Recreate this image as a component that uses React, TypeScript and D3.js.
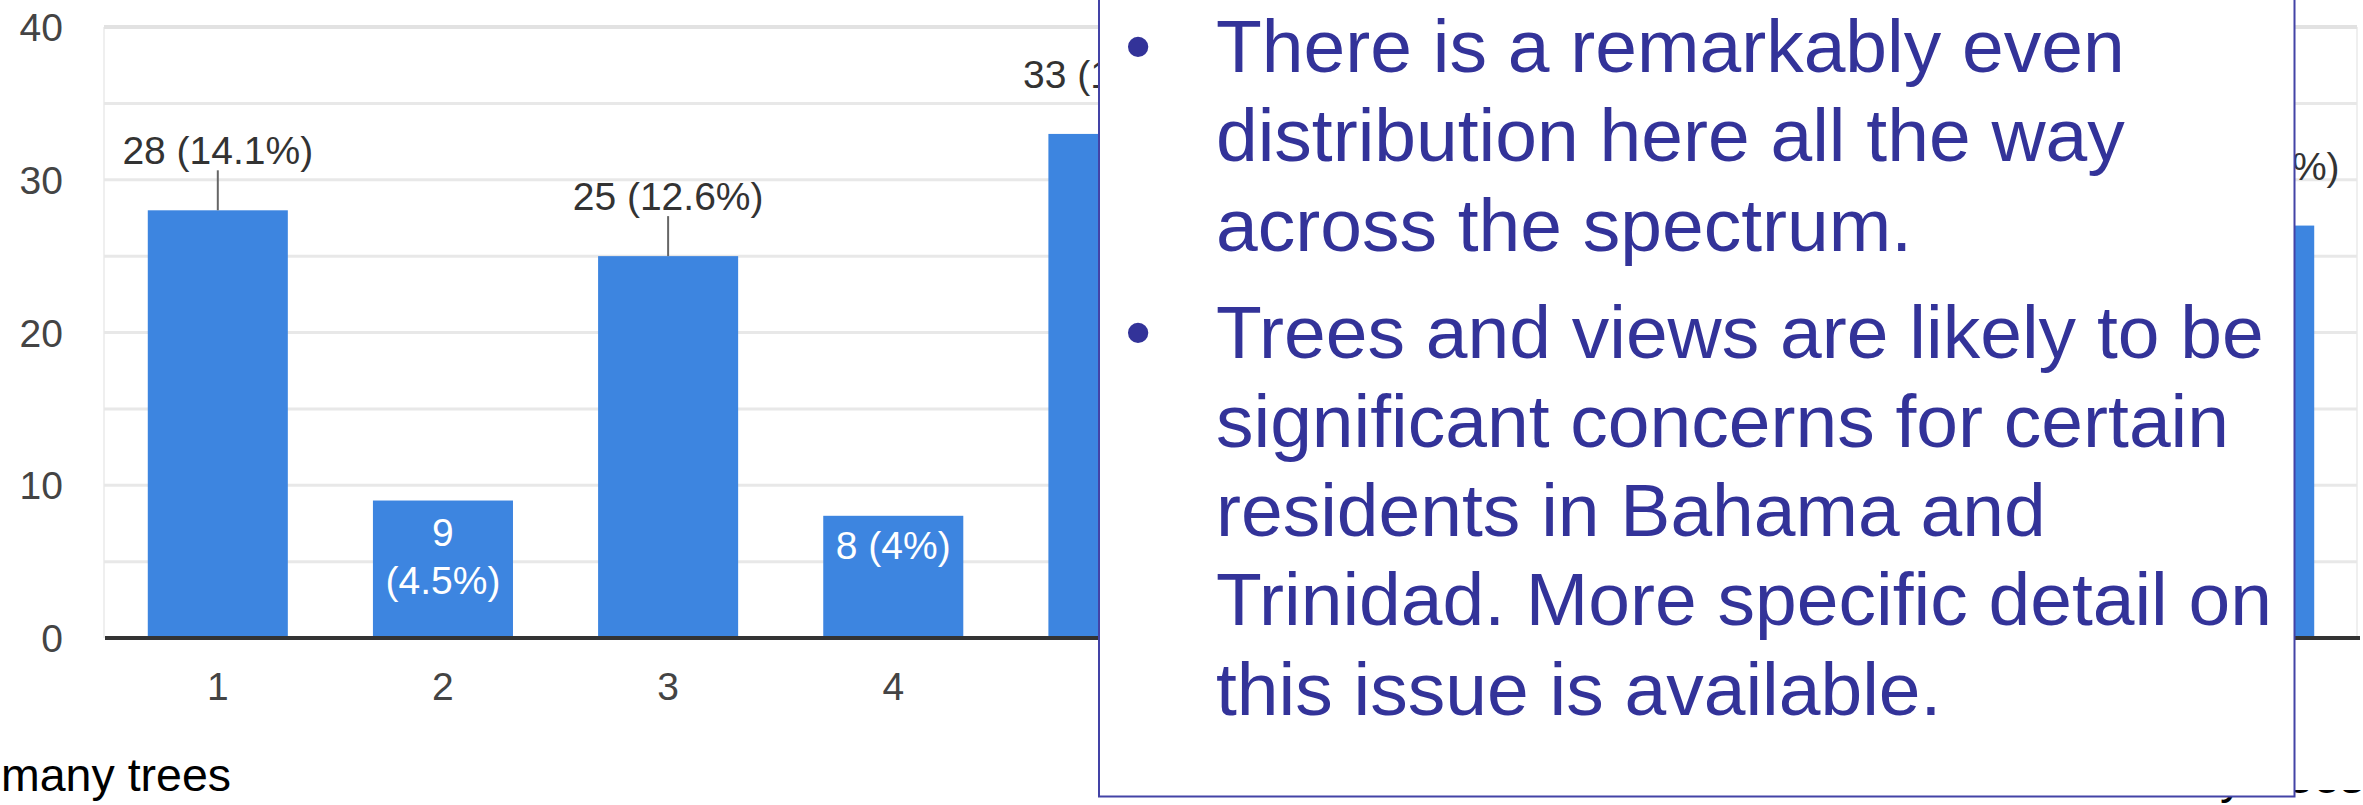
import React from "react";
import * as d3 from "d3";

const categories = ["1", "2", "3", "4", "5", "6", "7", "8", "9", "10"];
const counts = [28, 9, 25, 8, 33, 19, 17, 15, 18, 27];
const yTicks = [0, 10, 20, 30, 40];
const gridValues = [5, 10, 15, 20, 25, 30, 35, 40];
const bullets = [
  ["There is a remarkably even", "distribution here all the way", "across the spectrum."],
  [
    "Trees and views are likely to be",
    "significant concerns for certain",
    "residents in Bahama and",
    "Trinidad. More specific detail on",
    "this issue is available.",
  ],
];
const leftCaption = "many trees";
const rightCaption = "many trees";

const W = 2363;
const H = 805;
const FONT = "'Liberation Sans', Arial, Helvetica, sans-serif";

// text box geometry
const boxX = 1099;
const boxR = 2294.5;
const boxB = 796.5;

export default function App() {
  const total = d3.sum(counts);
  const x = d3
    .scaleBand<string>()
    .domain(categories)
    .range([105, 2357])
    .paddingInner(0.378)
    .paddingOuter(0.19);
  const y = d3.scaleLinear().domain([0, 40]).range([638, 27]);
  const bw = x.bandwidth();

  const pct = (v: number) => {
    const p = Math.round((v / total) * 1000) / 10;
    return `${p}%`;
  };

  // a text fully covered by the opaque text box is not drawn
  const hidden = (cx: number, text: string, fs: number) => {
    const w = text.length * fs * 0.5;
    return cx - w / 2 > boxX && cx + w / 2 < boxR;
  };

  const lineH = 89.3;
  const paraGap = 17.6;
  let base = 72;
  const lines: { text: string; y: number; bullet: boolean }[] = [];
  bullets.forEach((para, pi) => {
    if (pi > 0) base += paraGap;
    para.forEach((t, li) => {
      lines.push({ text: t, y: base, bullet: li === 0 });
      base += lineH;
    });
  });

  return (
    <svg
      width={W}
      height={H}
      viewBox={`0 0 ${W} ${H}`}
      style={{ position: "absolute", left: 0, top: 0, background: "#fff" }}
      fontFamily={FONT}
    >
      <defs>
        <clipPath id="bottomStrip">
          <rect x={0} y={790} width={W} height={20} />
        </clipPath>
      </defs>
      <rect x={0} y={0} width={W} height={H} fill="#fff" />

      {/* plot frame */}
      <line x1={104} x2={104} y1={y(40)} y2={y(0)} stroke="#efefef" strokeWidth={2} />
      <line x1={2357} x2={2357} y1={y(40)} y2={y(0)} stroke="#efefef" strokeWidth={2} />

      {/* gridlines */}
      {gridValues.map((g) => (
        <line
          key={g}
          x1={104}
          x2={2357}
          y1={y(g)}
          y2={y(g)}
          stroke={g === 40 ? "#e2e2e2" : "#e8e8e8"}
          strokeWidth={g === 40 ? 4 : 3}
        />
      ))}

      {/* y tick labels */}
      {yTicks.map((t) => (
        <text key={t} x={63} y={y(t) + 14} textAnchor="end" fontSize={39} fill="#444">
          {t}
        </text>
      ))}

      {/* bars */}
      {counts.map((v, i) => (
        <rect
          key={categories[i]}
          x={x(categories[i])}
          y={y(v)}
          width={bw}
          height={y(0) - y(v)}
          fill="#3d85e0"
        />
      ))}

      {/* baseline */}
      <line x1={105} x2={2360} y1={y(0)} y2={y(0)} stroke="#333" strokeWidth={4} />

      {/* x tick labels */}
      {categories.map((c) => {
        const cx = (x(c) as number) + bw / 2;
        if (hidden(cx, c, 39)) return null;
        return (
          <text key={c} x={cx} y={700} textAnchor="middle" fontSize={39} fill="#444">
            {c}
          </text>
        );
      })}

      {/* value labels */}
      {counts.map((v, i) => {
        const cx = (x(categories[i]) as number) + bw / 2;
        const top = y(v);
        const label = `${v} (${pct(v)})`;
        if (hidden(cx, label, 39)) return null;
        if (v < 12) {
          const wrap = label.length > 7;
          if (wrap) {
            return (
              <g key={i} fill="#fff" fontSize={39} textAnchor="middle">
                <text x={cx} y={top + 45}>{`${v}`}</text>
                <text x={cx} y={top + 93}>{`(${pct(v)})`}</text>
              </g>
            );
          }
          return (
            <text key={i} x={cx} y={top + 43} fill="#fff" fontSize={39} textAnchor="middle">
              {label}
            </text>
          );
        }
        return (
          <g key={i}>
            <line x1={cx} x2={cx} y1={top - 40} y2={top} stroke="#666" strokeWidth={2} />
            <text x={cx} y={top - 46} fill="#333" fontSize={39} textAnchor="middle">
              {label}
            </text>
          </g>
        );
      })}

      {/* captions */}
      <text x={1} y={791} fontSize={46.5} fill="#000">
        {leftCaption}
      </text>
      <g clipPath="url(#bottomStrip)">
        <text x={2364} y={793} fontSize={48} fill="#000" textAnchor="end">
          {rightCaption}
        </text>
      </g>

      {/* text box */}
      <rect
        x={boxX}
        y={-10}
        width={boxR - boxX}
        height={boxB + 10}
        fill="#fff"
        stroke="#4343a6"
        strokeWidth={2}
      />
      {lines.map((l, i) => (
        <g key={i} fill="#333399" fontSize={75}>
          {l.bullet && <text x={1125} y={l.y}>•</text>}
          <text x={1216} y={l.y}>
            {l.text}
          </text>
        </g>
      ))}
    </svg>
  );
}
